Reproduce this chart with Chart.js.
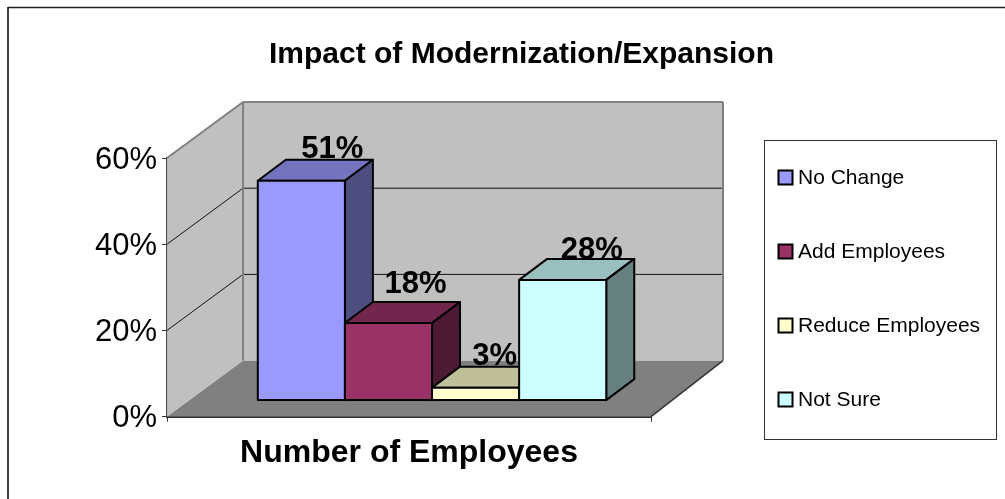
<!DOCTYPE html>
<html>
<head>
<meta charset="utf-8">
<style>
  html, body { margin: 0; padding: 0; background: #fff; }
  canvas { display: block; }
</style>
<script src="https://cdn.jsdelivr.net/npm/chart.js@4"></script>
</head>
<body>
<canvas id="impactChart" width="1005" height="499"></canvas>
<script>
const categories = ['Number of Employees'];
const seriesNames = ['No Change', 'Add Employees', 'Reduce Employees', 'Not Sure'];
const seriesValues = [51, 18, 3, 28];
const frontColors = ['#9999FF', '#993366', '#FFFFCC', '#CCFFFF'];
const topColors = ['#7373BF', '#73264D', '#BFBF99', '#99BFBF'];
const sideColors = ['#4D4D80', '#4D1A33', '#808066', '#668080'];
const FONT = '"Liberation Sans", Arial, sans-serif';

// offsets of the 3D look, in px
const barPlane = { x: 23, y: -16 };
const barDepth = { x: 28, y: -21 };
const wallDepth = { left: 76, right: 72, y: -56 };
// nudges for the value labels, Excel does not place them evenly
const labelNudge = [[3, -2], [-1, -9], [-9, -2], [1, 0]];

function poly(ctx, pts, fill, stroke, lineWidth) {
  ctx.beginPath();
  pts.forEach((p, i) => (i ? ctx.lineTo(p[0], p[1]) : ctx.moveTo(p[0], p[1])));
  ctx.closePath();
  if (fill) {
    ctx.fillStyle = fill;
    ctx.fill();
  }
  if (stroke) {
    ctx.strokeStyle = stroke;
    ctx.lineWidth = lineWidth;
    ctx.lineJoin = 'round';
    ctx.stroke();
  }
}

function line(ctx, x1, y1, x2, y2, color, width) {
  ctx.beginPath();
  ctx.moveTo(x1, y1);
  ctx.lineTo(x2, y2);
  ctx.strokeStyle = color;
  ctx.lineWidth = width;
  ctx.stroke();
}

const walls3d = {
  id: 'walls3d',
  afterLayout(chart) {
    // title is centred over the whole picture, not over the plot
    chart.titleBlock.left = 38;
    chart.titleBlock.right = 1005;
  },
  beforeDraw(chart) {
    const { ctx } = chart;
    // outer frame, only top and left show in the picture
    line(ctx, 8, 7.5, 1005, 7.5, '#222', 1.5);
    line(ctx, 8, 7, 8, 499, '#000', 1.5);
  },
  beforeDatasetsDraw(chart) {
    const { ctx, chartArea: a, scales } = chart;
    const bl = a.left + wallDepth.left;
    const br = a.right + wallDepth.right;
    const d = wallDepth.y;

    poly(ctx, [[a.left, a.bottom], [a.right, a.bottom], [br, a.bottom + d], [bl, a.bottom + d]], '#808080');
    poly(ctx, [[a.left, a.top], [bl, a.top + d], [bl, a.bottom + d], [a.left, a.bottom]], '#C0C0C0');
    poly(ctx, [[bl, a.top + d], [br, a.top + d], [br, a.bottom + d], [bl, a.bottom + d]], '#C0C0C0');

    scales.y.ticks.forEach(t => {
      if (t.value === 0 || t.value === scales.y.max) return;
      const y = scales.y.getPixelForValue(t.value);
      line(ctx, a.left, y, bl, y + d, '#111', 1);
      line(ctx, bl, y + d, br, y + d, '#111', 1);
    });

    line(ctx, a.left, a.top, bl, a.top + d, '#808080', 2);
    line(ctx, bl, a.top + d, br, a.top + d, '#808080', 2);
    line(ctx, bl, a.top + d, bl, a.bottom + d, '#808080', 2);
    line(ctx, br, a.top + d, br, a.bottom + d, '#808080', 2);
    line(ctx, a.right, a.bottom, br, a.bottom + d, '#333', 1.5);
  },
  // bars are painted by hand below, left to right
  beforeDatasetDraw() {
    return false;
  },
  afterDatasetsDraw(chart) {
    const { ctx } = chart;
    const dx = barDepth.x;
    const dy = barDepth.y;

    chart.data.datasets.forEach((ds, i) => {
      const bar = chart.getDatasetMeta(i).data[0];
      const p = bar.getProps(['x', 'y', 'base', 'width'], true);
      const x0 = p.x - p.width / 2;
      const x1 = p.x + p.width / 2;

      ctx.save();
      ctx.translate(barPlane.x, barPlane.y);
      poly(ctx, [[x0, p.y], [x0 + dx, p.y + dy], [x1 + dx, p.y + dy], [x1, p.y]], topColors[i], '#000', 2);
      poly(ctx, [[x1, p.y], [x1 + dx, p.y + dy], [x1 + dx, p.base + dy], [x1, p.base]], sideColors[i], '#000', 2);
      poly(ctx, [[x0, p.y], [x1, p.y], [x1, p.base], [x0, p.base]], frontColors[i], '#000', 2);
      ctx.restore();
    });

    // value labels go on top of everything
    ctx.font = 'bold 31px ' + FONT;
    ctx.fillStyle = '#000';
    ctx.textAlign = 'center';
    ctx.textBaseline = 'alphabetic';
    chart.data.datasets.forEach((ds, i) => {
      const bar = chart.getDatasetMeta(i).data[0];
      const p = bar.getProps(['x', 'y'], true);
      ctx.fillText(ds.data[0] + '%',
        p.x + barPlane.x + 28 + labelNudge[i][0],
        p.y + barPlane.y + dy + labelNudge[i][1]);
    });

    // legend box
    const boxX = 764.5, boxY = 140.5;
    ctx.fillStyle = '#fff';
    ctx.fillRect(boxX, boxY, 232, 299);
    ctx.strokeStyle = '#333';
    ctx.lineWidth = 1;
    ctx.strokeRect(boxX, boxY, 232, 299);
    ctx.font = '21px ' + FONT;
    ctx.textAlign = 'left';
    ctx.textBaseline = 'middle';
    seriesNames.forEach((name, i) => {
      const cy = 177.5 + i * 74;
      ctx.fillStyle = frontColors[i];
      ctx.fillRect(778.5, cy - 7, 14, 14);
      ctx.strokeStyle = '#000';
      ctx.lineWidth = 2;
      ctx.strokeRect(778.5, cy - 7, 14, 14);
      ctx.fillStyle = '#000';
      ctx.fillText(name, 798, cy + 1);
    });
  }
};

new Chart(document.getElementById('impactChart'), {
  type: 'bar',
  data: {
    labels: categories,
    datasets: seriesNames.map((name, i) => ({
      label: name,
      data: [seriesValues[i]],
      backgroundColor: frontColors[i],
      borderColor: '#000',
      borderWidth: 2
    }))
  },
  options: {
    responsive: false,
    animation: false,
    events: [],
    layout: { padding: { left: 90, right: 354, top: 0, bottom: 15 } },
    categoryPercentage: 0.72,
    barPercentage: 1,
    plugins: {
      legend: { display: false },
      tooltip: { enabled: false },
      title: {
        display: true,
        text: 'Impact of Modernization/Expansion',
        color: '#000',
        font: { family: FONT, size: 30, weight: 'bold' },
        padding: { top: 37, bottom: 85 }
      }
    },
    scales: {
      x: {
        grid: { drawOnChartArea: false, color: '#333', tickLength: 5 },
        border: { color: '#333', width: 2 },
        ticks: {
          color: '#000',
          padding: 12,
          font: { family: FONT, size: 32, weight: 'bold' }
        }
      },
      y: {
        min: 0,
        max: 60,
        grid: { drawOnChartArea: false, color: '#333', tickLength: 5 },
        border: { color: '#444', width: 2 },
        ticks: {
          stepSize: 20,
          color: '#000',
          padding: 5,
          labelOffset: 2,
          font: { family: FONT, size: 31 },
          callback: v => v + '%'
        }
      }
    }
  },
  plugins: [walls3d]
});
</script>
</body>
</html>
